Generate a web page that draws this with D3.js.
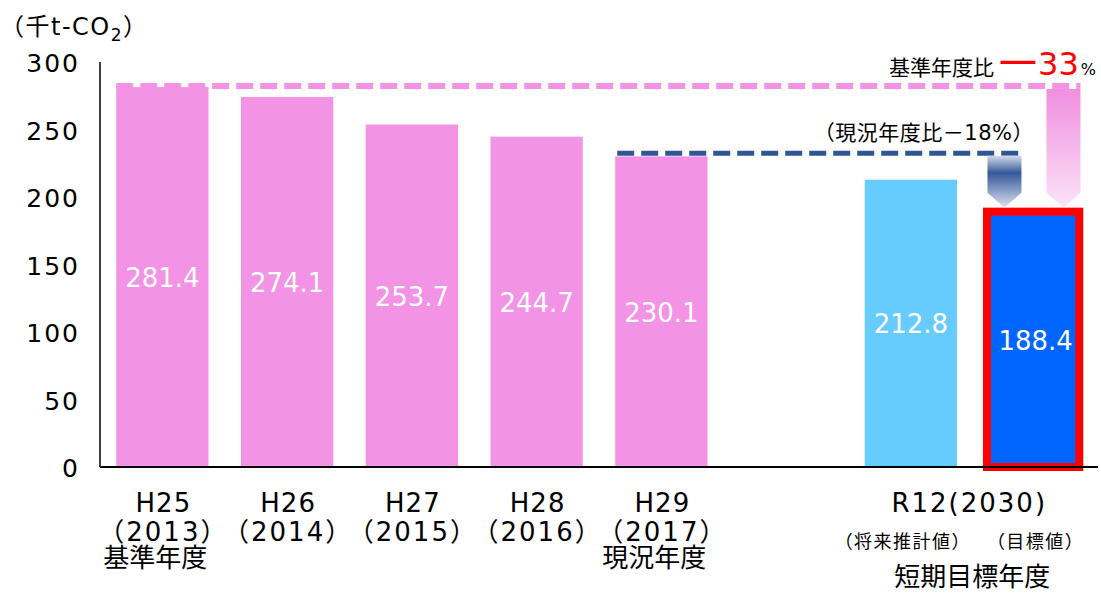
<!DOCTYPE html>
<html>
<head>
<meta charset="utf-8">
<script src="https://cdn.jsdelivr.net/npm/d3@7"></script>
<style>
  body { margin: 0; background: #fff; }
  svg text { font-family: "DejaVu Sans", "Noto Sans CJK JP", sans-serif; }
  svg text.jp { font-family: "Noto Sans CJK JP", sans-serif; }
</style>
</head>
<body>
<div id="chart"></div>
<script>
// data
var slots = ["H25", "H26", "H27", "H28", "H29", "gap", "R12est", "R12goal"];
var values = [281.4, 274.1, 253.7, 244.7, 230.1, null, 212.8, 188.4];
var labelYear = ["H25", "H26", "H27", "H28", "H29"];
var labelSeireki = ["（2013）", "（2014）", "（2015）", "（2016）", "（2017）"];
var labelNote = ["基準年度", "", "", "", "現況年度"];
var r12Label = "R12(2030)";
var r12Sub = ["（将来推計値）", "（目標値）"];
var r12Note = "短期目標年度";
var yTicks = [0, 50, 100, 150, 200, 250, 300];
var baseIdx = 0, nowIdx = 4, goalIdx = 7;

var svgWidth = 1101, svgHeight = 593;
var svg = d3.select("#chart").append("svg")
  .attr("width", svgWidth)
  .attr("height", svgHeight);

var x = d3.scaleBand()
  .domain(slots)
  .range([100, 1098])
  .paddingInner(0.26)
  .paddingOuter(0.13);

var y = d3.scaleLinear()
  .domain([0, 300])
  .range([467, 62]);

function barColor(i) {
  if (i === goalIdx) return "#0066FF";
  if (i === 6) return "#66CCFF";
  return "#F393E5";
}

// gradients for arrows
var defs = svg.append("defs");
var gBlue = defs.append("linearGradient").attr("id", "gBlue")
  .attr("x1", 0).attr("y1", 0).attr("x2", 0).attr("y2", 1);
gBlue.append("stop").attr("offset", "0%").attr("stop-color", "#D4DAE8");
gBlue.append("stop").attr("offset", "33%").attr("stop-color", "#34589A");
gBlue.append("stop").attr("offset", "100%").attr("stop-color", "#DCE2F0");
var gPink = defs.append("linearGradient").attr("id", "gPink")
  .attr("x1", 0).attr("y1", 0).attr("x2", 0).attr("y2", 1);
gPink.append("stop").attr("offset", "0%").attr("stop-color", "#F08EDF");
gPink.append("stop").attr("offset", "100%").attr("stop-color", "#FCE3F7");

// bars
var barData = values.map(function(v, i) { return {slot: slots[i], v: v, i: i}; })
  .filter(function(d) { return d.v != null; });

svg.selectAll("rect.bar")
  .data(barData)
  .enter()
  .append("rect")
  .attr("class", "bar")
  .attr("x", function(d) { return x(d.slot); })
  .attr("y", function(d) { return y(d.v); })
  .attr("width", x.bandwidth())
  .attr("height", function(d) { return y(0) - y(d.v); })
  .attr("fill", function(d) { return barColor(d.i); });

// red frame on target bar
svg.append("rect")
  .attr("x", x(slots[goalIdx]) - 2.5)
  .attr("y", y(values[goalIdx]) - 1)
  .attr("width", x.bandwidth())
  .attr("height", y(0) - y(values[goalIdx]) + 1)
  .attr("fill", "none")
  .attr("stroke", "#FF0000")
  .attr("stroke-width", 8);

// value labels
svg.selectAll("text.val")
  .data(barData)
  .enter()
  .append("text")
  .attr("class", "val")
  .attr("x", function(d) { return x(d.slot) + x.bandwidth() / 2; })
  .attr("y", function(d) { return (y(d.v) + y(0)) / 2 + 10; })
  .attr("text-anchor", "middle")
  .attr("fill", "#fff")
  .style("font-size", "26px")
  .text(function(d) { return d.v.toFixed(1); });

// axes
svg.append("line")
  .attr("x1", 100).attr("x2", 100)
  .attr("y1", y(300)).attr("y2", y(0))
  .attr("stroke", "#000").attr("stroke-width", 1.5);
svg.append("line")
  .attr("x1", 100).attr("x2", 1098)
  .attr("y1", y(0)).attr("y2", y(0))
  .attr("stroke", "#000").attr("stroke-width", 2);

svg.selectAll("text.tick")
  .data(yTicks)
  .enter()
  .append("text")
  .attr("class", "tick")
  .attr("x", 80)
  .attr("y", function(d) { return y(d) + 10; })
  .attr("text-anchor", "end")
  .style("font-size", "25px")
  .style("letter-spacing", "2px")
  .text(function(d) { return d; });

// unit
var unit = svg.append("text")
  .attr("x", 0).attr("y", 35)
  .style("font-size", "24px")
  .style("letter-spacing", "1.5px");
unit.append("tspan").text("（千t-CO");
unit.append("tspan").attr("dy", 6).style("font-size", "17px").text("2");
unit.append("tspan").attr("dy", -6).text("）");

// x labels
labelYear.forEach(function(t, i) {
  var cx = x(slots[i]) + x.bandwidth() / 2;
  svg.append("text").attr("x", cx + 1).attr("y", 512)
    .attr("text-anchor", "middle").style("font-size", "26px").style("letter-spacing", "1px").text(t);
  svg.append("text").attr("x", cx + 1).attr("y", 541)
    .attr("text-anchor", "middle").style("font-size", "26px").style("letter-spacing", "2px").text(labelSeireki[i]);
  if (labelNote[i]) {
    svg.append("text").attr("class", "jp").attr("x", cx - 7).attr("y", 567)
      .attr("text-anchor", "middle").style("font-size", "26px").text(labelNote[i]);
  }
});

var c6 = x(slots[6]) + x.bandwidth() / 2;
var c7 = x(slots[7]) + x.bandwidth() / 2;
svg.append("text").attr("x", (c6 + c7) / 2 - 4).attr("y", 512)
  .attr("text-anchor", "middle").style("font-size", "26px").style("letter-spacing", "2px").text(r12Label);
svg.append("text").attr("class", "jp").attr("x", c6 - 8).attr("y", 548)
  .attr("text-anchor", "middle").style("font-size", "18px").style("letter-spacing", "1.5px").text(r12Sub[0]);
svg.append("text").attr("class", "jp").attr("x", c7).attr("y", 548)
  .attr("text-anchor", "middle").style("font-size", "18px").style("letter-spacing", "1.5px").text(r12Sub[1]);
svg.append("text").attr("class", "jp").attr("x", (c6 + c7) / 2 - 1).attr("y", 586)
  .attr("text-anchor", "middle").style("font-size", "26px").text(r12Note);

// reference lines
var gx = x(slots[goalIdx]);
var pinkX = gx + 57, blueX = gx - 2, arrowW = 34;
var tipY = y(values[goalIdx]) - 5;

svg.append("line")
  .attr("x1", x(slots[baseIdx])).attr("x2", pinkX + arrowW)
  .attr("y1", y(values[baseIdx]) - 1).attr("y2", y(values[baseIdx]) - 1)
  .attr("stroke", "#F393E5").attr("stroke-width", 6)
  .attr("stroke-dasharray", "17,7");

svg.append("line")
  .attr("x1", x(slots[nowIdx]) + 2).attr("x2", blueX + arrowW)
  .attr("y1", y(values[nowIdx]) - 3).attr("y2", y(values[nowIdx]) - 3)
  .attr("stroke", "#2F5597").attr("stroke-width", 5)
  .attr("stroke-dasharray", "17,7");

// arrows
function arrowPath(x0, y0, w, y1) {
  var head = 15;
  return "M" + x0 + "," + y0 + "H" + (x0 + w) + "V" + (y1 - head) +
    "L" + (x0 + w / 2) + "," + y1 + "L" + x0 + "," + (y1 - head) + "Z";
}
svg.append("path")
  .attr("d", arrowPath(blueX, y(values[nowIdx]) - 0.5, arrowW, tipY))
  .attr("fill", "url(#gBlue)");
svg.append("path")
  .attr("d", arrowPath(pinkX, y(values[baseIdx]) + 2, arrowW, tipY))
  .attr("fill", "url(#gPink)");

// annotations
var ann = svg.append("text").attr("x", 1096).attr("y", 75).attr("text-anchor", "end");
ann.append("tspan").style("font-family", "Noto Sans CJK JP").style("font-size", "21px").text("基準年度比");
ann.append("tspan").attr("fill", "#FF0000").attr("dy", 5).style("font-family", "Noto Sans CJK JP")
  .style("font-size", "48px").text("－");
ann.append("tspan").attr("fill", "#FF0000").attr("dy", -5).attr("dx", -4).style("font-size", "32px").text("33");
ann.append("tspan").attr("dx", 2).style("font-size", "16px").text("%");

svg.append("text").attr("x", 1034).attr("y", 140).attr("text-anchor", "end")
  .style("font-size", "21px").style("letter-spacing", "0.5px").text("（現況年度比－18%）");
</script>
</body>
</html>
